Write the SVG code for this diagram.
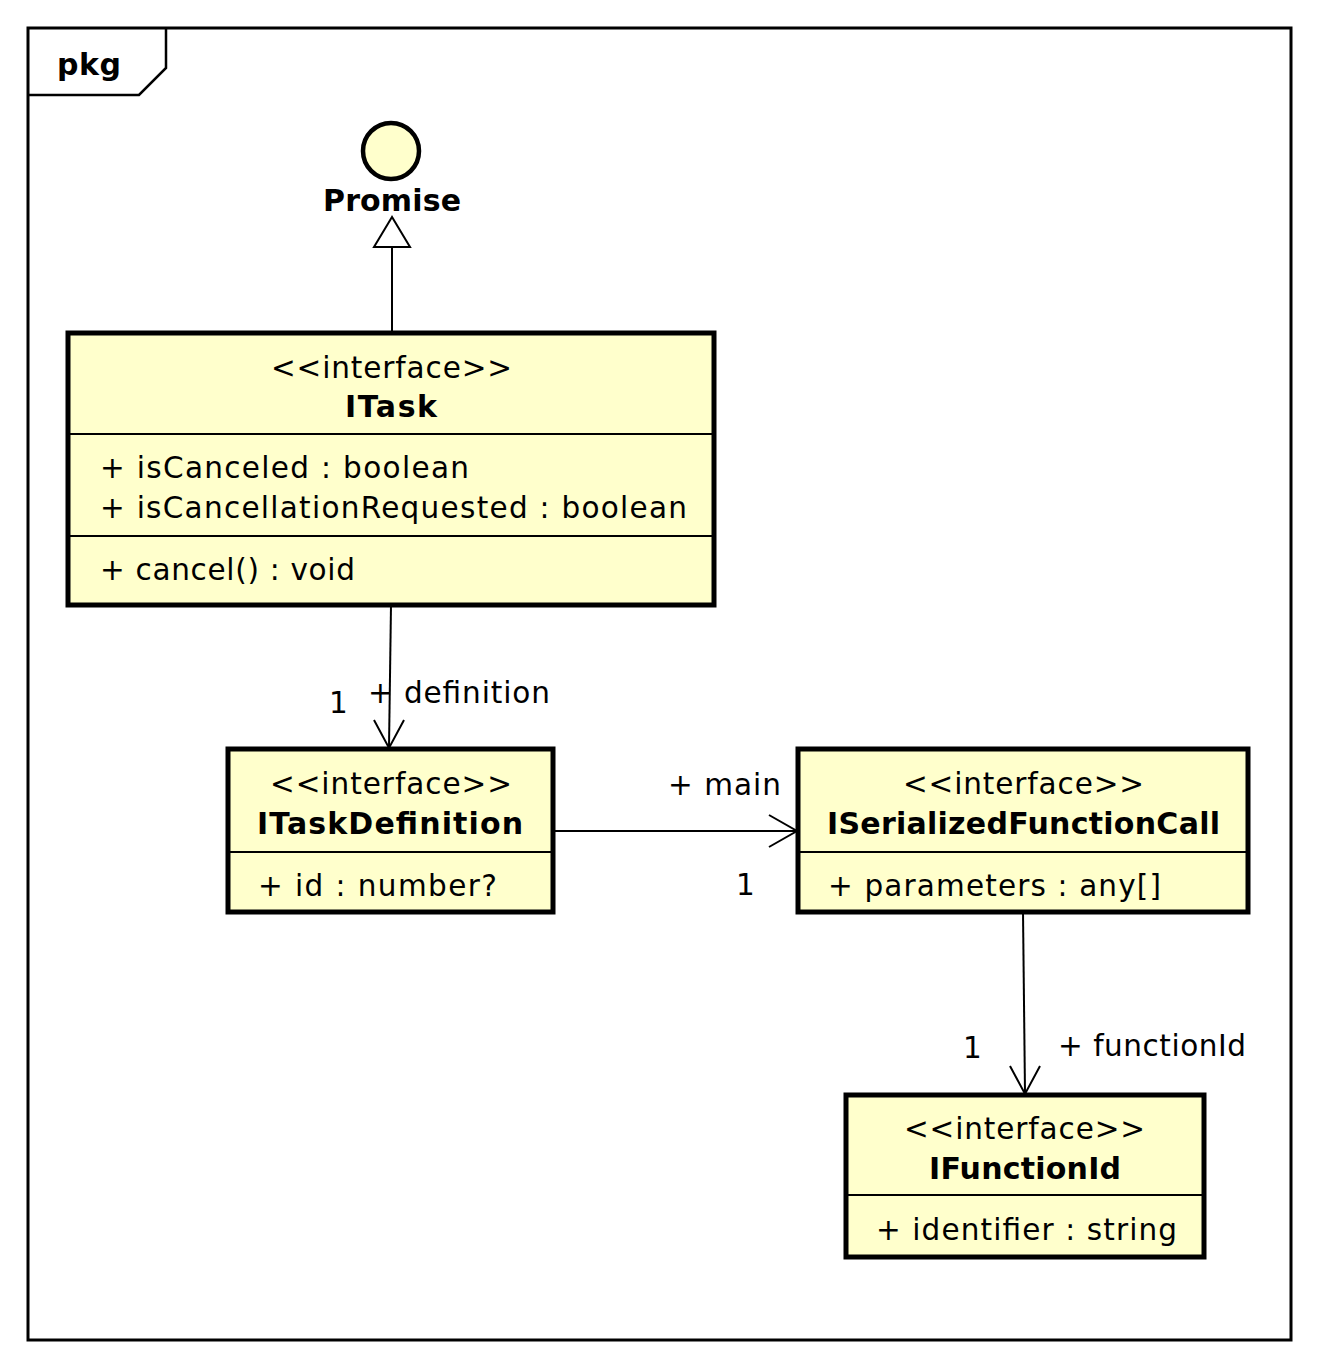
<svg xmlns="http://www.w3.org/2000/svg" width="1319" height="1369" viewBox="0 0 1319 1369">
<style>
  text { font-family: "DejaVu Sans", "Liberation Sans", sans-serif; font-size: 29.5px; fill: #000; }
  .b { font-weight: bold; font-size: 30px; }
  .c { text-anchor: middle; }
  .box { fill: #FFFFCC; stroke: #000; stroke-width: 5; }
  .div { stroke: #000; stroke-width: 2; }
  .edge { stroke: #000; stroke-width: 2; fill: none; }
</style>
<rect width="1319" height="1369" fill="#fff"/>
<g id="frame">
  <rect x="28" y="28" width="1263" height="1312" fill="none" stroke="#000" stroke-width="3"/>
  <path d="M28,95 H139 L166,68 V28" fill="none" stroke="#000" stroke-width="2.5"/>
  <text x="57" y="75" class="b" textLength="64">pkg</text>
</g>
<g id="connectors">
  <line class="edge" x1="392" y1="247" x2="392" y2="332"/>
  <polygon points="392,217 374,247 410,247" fill="#fff" stroke="#000" stroke-width="2"/>
  <line class="edge" x1="391" y1="605" x2="389" y2="747"/>
  <polyline class="edge" points="374,720 389,748 404,720"/>
  <line class="edge" x1="553" y1="831" x2="797" y2="831"/>
  <polyline class="edge" points="769,815 797,831 769,847"/>
  <line class="edge" x1="1023" y1="912" x2="1025" y2="1093"/>
  <polyline class="edge" points="1010,1066 1025,1094 1040,1066"/>
  <text x="329" y="713">1</text>
  <text x="368" y="703" textLength="182">+ definition</text>
  <text x="668" y="795" textLength="113">+ main</text>
  <text x="736" y="895">1</text>
  <text x="963" y="1058">1</text>
  <text x="1058" y="1056" textLength="188">+ functionId</text>
</g>
<g id="Promise">
  <circle cx="391" cy="151" r="28" fill="#FFFFCC" stroke="#000" stroke-width="4.5"/>
  <text x="392" y="211" class="b c" textLength="138">Promise</text>
</g>
<g id="ITask">
  <rect class="box" x="68" y="333" width="646" height="272"/>
  <line class="div" x1="68" y1="434" x2="714" y2="434"/>
  <line class="div" x1="68" y1="536" x2="714" y2="536"/>
  <text x="391.5" y="378" class="c" textLength="241">&lt;&lt;interface&gt;&gt;</text>
  <text x="391" y="417" class="b c" textLength="92">ITask</text>
  <text x="100" y="478" textLength="369">+ isCanceled : boolean</text>
  <text x="100" y="518" textLength="587">+ isCancellationRequested : boolean</text>
  <text x="100" y="580" textLength="255">+ cancel() : void</text>
</g>
<g id="ITaskDefinition">
  <rect class="box" x="228" y="749" width="325" height="163"/>
  <line class="div" x1="228" y1="852" x2="553" y2="852"/>
  <text x="391" y="794" class="c" textLength="242">&lt;&lt;interface&gt;&gt;</text>
  <text x="390" y="834" class="b c" textLength="266">ITaskDefinition</text>
  <text x="258" y="896" textLength="239">+ id : number?</text>
</g>
<g id="ISerializedFunctionCall">
  <rect class="box" x="798" y="749" width="450" height="163"/>
  <line class="div" x1="798" y1="852" x2="1248" y2="852"/>
  <text x="1023.5" y="794" class="c" textLength="241">&lt;&lt;interface&gt;&gt;</text>
  <text x="1023.5" y="834" class="b c" textLength="393">ISerializedFunctionCall</text>
  <text x="828" y="896" textLength="333">+ parameters : any[]</text>
</g>
<g id="IFunctionId">
  <rect class="box" x="846" y="1095" width="358" height="162"/>
  <line class="div" x1="846" y1="1195" x2="1204" y2="1195"/>
  <text x="1024.5" y="1139" class="c" textLength="241">&lt;&lt;interface&gt;&gt;</text>
  <text x="1025" y="1179" class="b c" textLength="192">IFunctionId</text>
  <text x="876" y="1240" textLength="301">+ identifier : string</text>
</g>
</svg>
